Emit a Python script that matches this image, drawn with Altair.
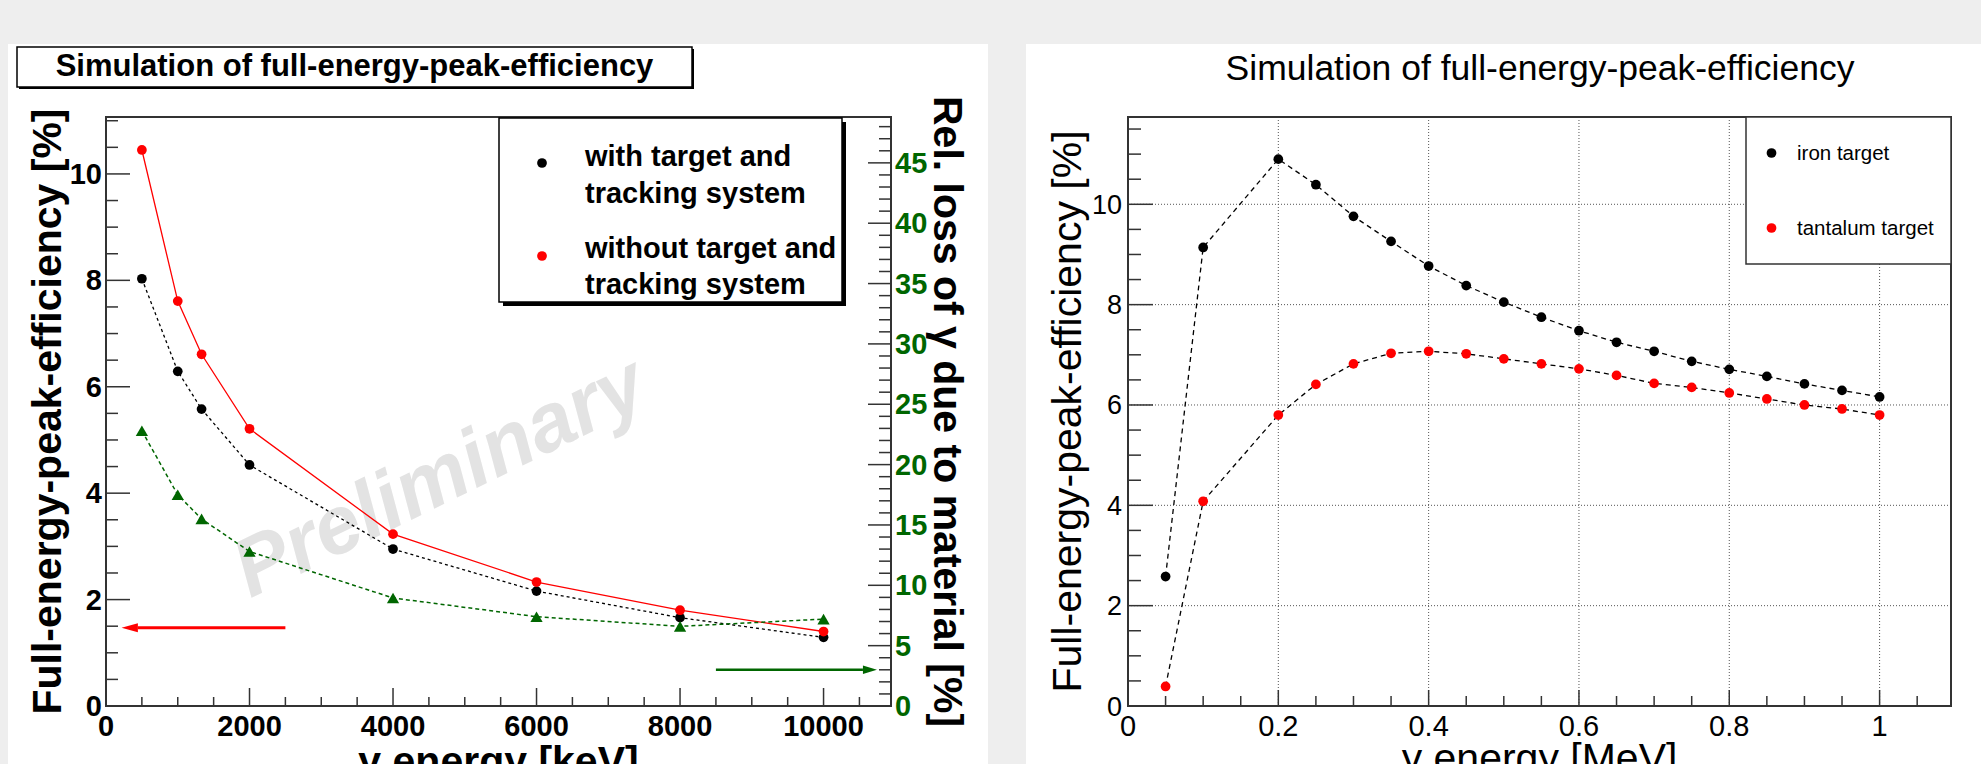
import altair as alt
import pandas as pd

# ------------------------------------------------------------------ data
# left panel: gamma energy in keV
energy_kev = [500, 1000, 1332, 2000, 4000, 6000, 8000, 10000]
eff_with_target = [8.03, 6.29, 5.58, 4.53, 2.95, 2.16, 1.66, 1.29]
eff_without_target = [10.45, 7.61, 6.61, 5.21, 3.23, 2.33, 1.80, 1.40]
rel_loss_pct = [22.8, 17.5, 15.5, 12.8, 8.95, 7.4, 6.6, 7.2]

# right panel: gamma energy in MeV
energy_mev = [0.05, 0.1, 0.2, 0.25, 0.3, 0.35, 0.4, 0.45, 0.5, 0.55,
              0.6, 0.65, 0.7, 0.75, 0.8, 0.85, 0.9, 0.95, 1.0]
eff_iron = [2.58, 9.14, 10.90, 10.39, 9.76, 9.26, 8.77, 8.38, 8.05, 7.75,
            7.48, 7.25, 7.07, 6.87, 6.71, 6.57, 6.42, 6.29, 6.16]
eff_tantalum = [0.39, 4.08, 5.80, 6.41, 6.82, 7.03, 7.07, 7.02, 6.92, 6.82,
                6.72, 6.59, 6.43, 6.35, 6.24, 6.12, 6.00, 5.92, 5.80]

# texts
left_title = "Simulation of full-energy-peak-efficiency"
right_title = "Simulation of full-energy-peak-efficiency"
left_x_title = "γ energy [keV]"
left_y_title = "Full-energy-peak-efficiency [%]"
green_y_title = "Rel. loss of γ due to material [%]"
right_x_title = "γ energy [MeV]"
right_y_title = "Full-energy-peak-efficiency [%]"
left_legend_lines = ["with target and", "tracking system", "without target and", "tracking system"]
right_legend_labels = ["iron target", "tantalum target"]
watermark = "Preliminary"

# annotation arrows (data units)
red_arrow = {"x_start": 2500, "x_base": 442, "x_tip": 219, "y": 1.47}       # left axis
green_arrow = {"x_start": 8500, "x_base": 10549, "x_tip": 10744, "y": 3.0}  # right axis

# axis tick values
left_x_major = [0, 2000, 4000, 6000, 8000, 10000]
left_x_minor = [500 * i for i in range(1, 22) if i % 4]
left_y_major = [0, 2, 4, 6, 8, 10]
left_y_minor = [0.5 * i for i in range(1, 23) if i % 4]
green_major = [0, 5, 10, 15, 20, 25, 30, 35, 40, 45]
green_minor = [i for i in range(1, 49) if i % 5]
right_x_major = [0, 0.2, 0.4, 0.6, 0.8, 1.0]
right_x_minor = [round(0.05 * i, 2) for i in range(1, 22) if i % 4]
right_y_major = [0, 2, 4, 6, 8, 10]
right_y_minor = [0.5 * i for i in range(1, 24) if i % 4]

# ------------------------------------------------------------------ style
FONT = "Liberation Sans"
GREEN = "#006600"
AX = "#333333"
W1, W2, H = 785, 823, 589
DOT = 95

one = alt.Data(values=[{"k": 0}])


def txt(s, x, y, size, weight="normal", align="left", baseline="alphabetic",
        color="black", angle=None, style=None):
    kw = dict(text=s, fontSize=size, fontWeight=weight, align=align,
              baseline=baseline, color=color, font=FONT)
    if angle is not None:
        kw["angle"] = angle
    if style is not None:
        kw["fontStyle"] = style
    return alt.Chart(one).mark_text(**kw).encode(x=alt.value(x), y=alt.value(y))


def box(x1, x2, y1, y2, fill, stroke=None, sw=1.5):
    kw = dict(fill=fill, opacity=1)
    if stroke:
        kw.update(stroke=stroke, strokeWidth=sw)
    return alt.Chart(one).mark_rect(**kw).encode(
        x=alt.value(x1), x2=alt.value(x2), y=alt.value(y1), y2=alt.value(y2))


def dot(x, y, color):
    return alt.Chart(one).mark_point(filled=True, size=DOT, color=color, opacity=1).encode(
        x=alt.value(x), y=alt.value(y))


def ticks_x(vals, scale, length):
    return alt.Chart(pd.DataFrame({"v": vals})).mark_rule(color=AX, strokeWidth=1.5).encode(
        x=alt.X("v:Q", scale=scale, axis=None), y=alt.value(H), y2=alt.value(H - length))


def ticks_y(vals, scale, length, x0, direction, color=AX):
    return alt.Chart(pd.DataFrame({"v": vals})).mark_rule(color=color, strokeWidth=1.5).encode(
        y=alt.Y("v:Q", scale=scale, axis=None), x=alt.value(x0),
        x2=alt.value(x0 + direction * length))


def labels_x(vals, scale, fmt, size, weight, ybase):
    return alt.Chart(pd.DataFrame({"v": vals})).mark_text(
        fontSize=size, fontWeight=weight, align="center", baseline="alphabetic",
        color="black", font=FONT).encode(
        x=alt.X("v:Q", scale=scale, axis=None), y=alt.value(ybase),
        text=alt.Text("v:Q", format=fmt))


def labels_y(vals, scale, fmt, size, weight, x, align, dy, color="black"):
    return alt.Chart(pd.DataFrame({"v": vals})).mark_text(
        fontSize=size, fontWeight=weight, align=align, baseline="alphabetic",
        dy=dy, color=color, font=FONT).encode(
        y=alt.Y("v:Q", scale=scale, axis=None), x=alt.value(x),
        text=alt.Text("v:Q", format=fmt))


def frame(w):
    return alt.Chart(one).mark_rect(fill="transparent", stroke=AX, strokeWidth=2).encode(
        x=alt.value(0), x2=alt.value(w), y=alt.value(0), y2=alt.value(H))


# ------------------------------------------------------------------ left panel
xsL = alt.Scale(domain=[0, 10940], nice=False, zero=False)
ysL = alt.Scale(domain=[0, 11.07], nice=False, zero=False)
ysG = alt.Scale(domain=[0, 48.8], nice=False, zero=False)

dfL = pd.DataFrame({"E": energy_kev, "w": eff_with_target,
                    "wo": eff_without_target, "loss": rel_loss_pct})
baseL = alt.Chart(dfL)
XL = alt.X("E:Q", scale=xsL, axis=None)

black_line = baseL.mark_line(color="black", strokeWidth=1.3, strokeDash=[3, 3]).encode(
    x=XL, y=alt.Y("w:Q", scale=ysL, axis=None))
red_line = baseL.mark_line(color="red", strokeWidth=1.3).encode(
    x=XL, y=alt.Y("wo:Q", scale=ysL, axis=None))
black_pts = baseL.mark_point(filled=True, size=DOT, color="black", opacity=1).encode(
    x=XL, y=alt.Y("w:Q", scale=ysL, axis=None))
red_pts = baseL.mark_point(filled=True, size=DOT, color="red", opacity=1).encode(
    x=XL, y=alt.Y("wo:Q", scale=ysL, axis=None))

dfRA = pd.DataFrame({"a": [red_arrow["x_start"]], "b": [red_arrow["x_base"]],
                     "c": [(red_arrow["x_base"] + red_arrow["x_tip"]) / 2],
                     "y": [red_arrow["y"]]})
red_arrow_line = alt.Chart(dfRA).mark_rule(color="red", strokeWidth=3).encode(
    x=alt.X("a:Q", scale=xsL, axis=None), x2="b:Q", y=alt.Y("y:Q", scale=ysL, axis=None))
red_arrow_head = alt.Chart(dfRA).mark_point(
    shape="M -1 0 L 1 -0.55 L 1 0.55 Z", filled=True, size=266, color="red", opacity=1
).encode(x=alt.X("c:Q", scale=xsL, axis=None), y=alt.Y("y:Q", scale=ysL, axis=None))

left_main = alt.layer(
    ticks_x(left_x_major, xsL, 18), ticks_x(left_x_minor, xsL, 9),
    ticks_y(left_y_major, ysL, 24, 0, 1), ticks_y(left_y_minor, ysL, 12, 0, 1),
    labels_x(left_x_major, xsL, "d", 29, "bold", H + 30),
    labels_y(left_y_major, ysL, "d", 29, "bold", -4, "right", 10),
    black_line, red_line, black_pts, red_pts, red_arrow_line, red_arrow_head)

green_line = baseL.mark_line(color=GREEN, strokeWidth=1.5, strokeDash=[4, 3]).encode(
    x=XL, y=alt.Y("loss:Q", scale=ysG, axis=None))
green_pts = baseL.mark_point(shape="triangle-up", filled=True, size=150, color=GREEN,
                             opacity=1).encode(
    x=XL, y=alt.Y("loss:Q", scale=ysG, axis=None))
dfGA = pd.DataFrame({"a": [green_arrow["x_start"]], "b": [green_arrow["x_base"]],
                     "c": [(green_arrow["x_base"] + green_arrow["x_tip"]) / 2],
                     "y": [green_arrow["y"]]})
green_arrow_line = alt.Chart(dfGA).mark_rule(color=GREEN, strokeWidth=2.5).encode(
    x=alt.X("a:Q", scale=xsL, axis=None), x2="b:Q", y=alt.Y("y:Q", scale=ysG, axis=None))
green_arrow_head = alt.Chart(dfGA).mark_point(
    shape="M 1 0 L -1 -0.6 L -1 0.6 Z", filled=True, size=196, color=GREEN, opacity=1
).encode(x=alt.X("c:Q", scale=xsL, axis=None), y=alt.Y("y:Q", scale=ysG, axis=None))

green_main = alt.layer(
    ticks_y(green_major, ysG, 23, W1, -1), ticks_y(green_minor, ysG, 12, W1, -1),
    labels_y(green_major, ysG, "d", 29, "bold", W1 + 4, "left", 10, GREEN),
    green_line, green_pts, green_arrow_line, green_arrow_head)

left = alt.layer(
    box(-98, 882, -73, 647, "white"),
    txt(watermark, 334, 361, 82, weight="bold", align="center", baseline="middle",
        color="#e3e3e3", angle=334, style="italic"),
    left_main,
    green_main,
    frame(W1),
    txt(left_x_title, W1 / 2, H + 69, 41, weight="bold", align="center"),
    txt(left_y_title, -45, H / 2, 41, weight="bold", align="center", angle=270),
    txt(green_y_title, W1 + 43, H / 2, 41, weight="bold", align="center", angle=90),
    box(-87, 588, -68, -28, "black"),
    box(-89, 586, -70, -30, "white", "black", 1.5),
    txt(left_title, 248.5, -41.5, 31, weight="bold", align="center"),
    box(397, 740, 5, 189, "black"),
    box(393, 736, 1, 185, "white", "black", 1.5),
    dot(436, 46, "black"),
    dot(436, 139, "red"),
    txt(left_legend_lines[0], 479, 49, 29, weight="bold"),
    txt(left_legend_lines[1], 479, 86, 29, weight="bold"),
    txt(left_legend_lines[2], 479, 141, 29, weight="bold"),
    txt(left_legend_lines[3], 479, 177, 29, weight="bold"),
).resolve_scale(y="independent").properties(width=W1, height=H)

# ------------------------------------------------------------------ right panel
xsR = alt.Scale(domain=[0, 1.095], nice=False, zero=False)
ysR = alt.Scale(domain=[0, 11.74], nice=False, zero=False)

dfR = pd.DataFrame({"E": energy_mev, "fe": eff_iron, "ta": eff_tantalum})
baseR = alt.Chart(dfR)
XR = alt.X("E:Q", scale=xsR, axis=None)

grid_x = alt.Chart(pd.DataFrame({"v": right_x_major[1:]})).mark_rule(
    color="#555555", strokeWidth=1, strokeDash=[1, 2]).encode(
    x=alt.X("v:Q", scale=xsR, axis=None), y=alt.value(0), y2=alt.value(H))
grid_y = alt.Chart(pd.DataFrame({"v": right_y_major[1:]})).mark_rule(
    color="#555555", strokeWidth=1, strokeDash=[1, 2]).encode(
    y=alt.Y("v:Q", scale=ysR, axis=None), x=alt.value(0), x2=alt.value(W2))

iron_line = baseR.mark_line(color="black", strokeWidth=1.3, strokeDash=[5, 4]).encode(
    x=XR, y=alt.Y("fe:Q", scale=ysR, axis=None))
ta_line = baseR.mark_line(color="black", strokeWidth=1.3, strokeDash=[5, 4]).encode(
    x=XR, y=alt.Y("ta:Q", scale=ysR, axis=None))
iron_pts = baseR.mark_point(filled=True, size=DOT, color="black", opacity=1).encode(
    x=XR, y=alt.Y("fe:Q", scale=ysR, axis=None))
ta_pts = baseR.mark_point(filled=True, size=DOT, color="red", opacity=1).encode(
    x=XR, y=alt.Y("ta:Q", scale=ysR, axis=None))

right = alt.layer(
    box(-102, 853, -73, 647, "white"),
    txt(right_title, 412, -37, 35.5, align="center"),
    grid_x, grid_y,
    ticks_x(right_x_major, xsR, 16), ticks_x(right_x_minor, xsR, 10),
    ticks_y(right_y_major, ysR, 25, 0, 1), ticks_y(right_y_minor, ysR, 13, 0, 1),
    labels_x(right_x_major, xsR, "~g", 29, "normal", H + 30),
    labels_y(right_y_major, ysR, "d", 27, "normal", -6, "right", 9.5),
    iron_line, ta_line, iron_pts, ta_pts,
    frame(W2),
    txt(right_x_title, W2 / 2, H + 66, 41, align="center"),
    txt(right_y_title, -47, H / 2, 41, align="center", angle=270),
    box(618, 823, 0, 147, "white", AX, 1.5),
    dot(643.5, 36, "black"),
    dot(643.5, 111, "red"),
    txt(right_legend_labels[0], 669, 43, 20.5),
    txt(right_legend_labels[1], 669, 118, 20.5),
).properties(width=W2, height=H)

chart = alt.hconcat(left, right, spacing=38).properties(
    padding={"left": 8, "top": 44, "right": 0, "bottom": 0}
).configure(background="#eeeeee", font=FONT).configure_view(strokeWidth=0)

chart.save("out.html", embed_options={"renderer": "svg", "actions": False})
